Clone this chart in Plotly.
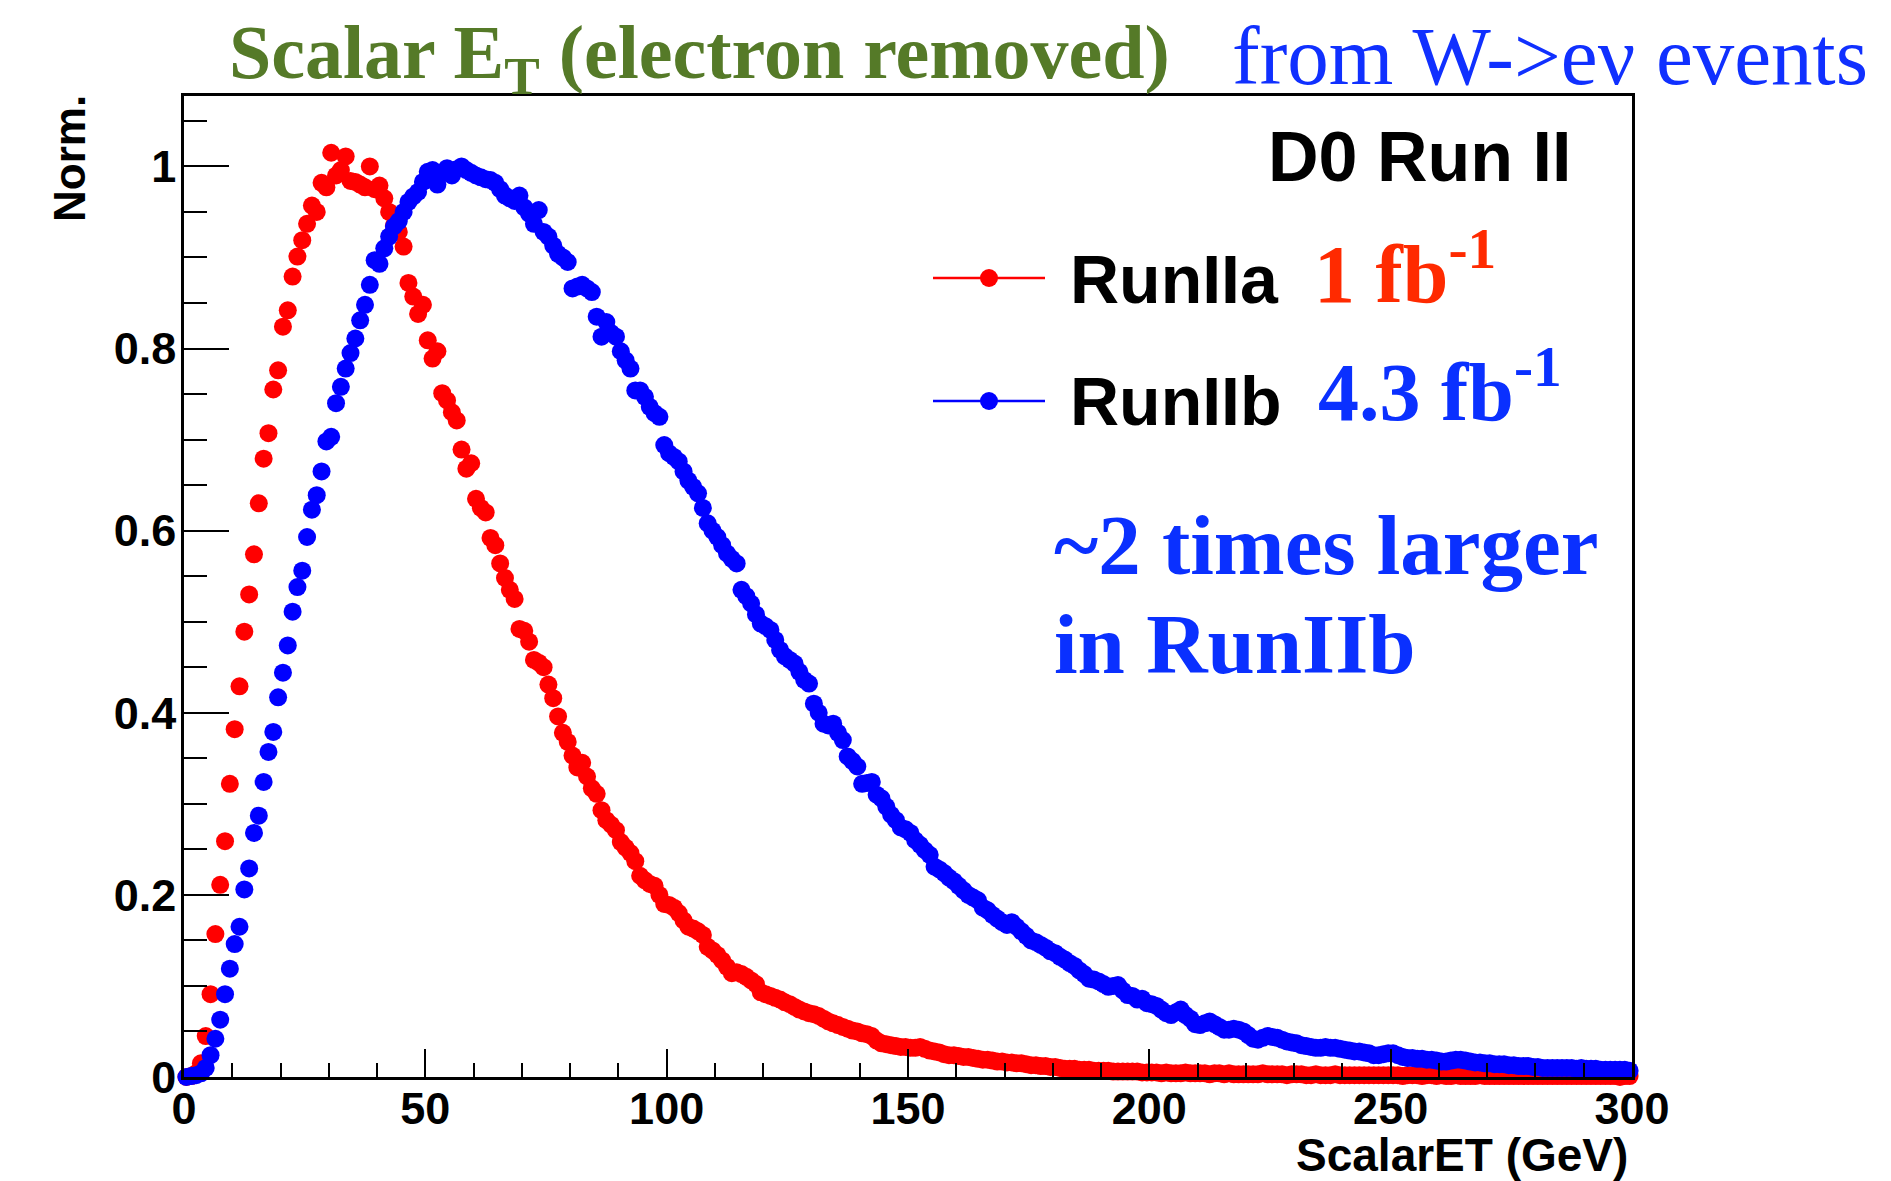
import plotly.graph_objects as go

# Scalar ET histograms (1 GeV bins, 0-300 GeV), normalised to peak
N_BINS = 300
BIN_WIDTH = 1.0
bin_centers = [(k + 0.5) * BIN_WIDTH for k in range(N_BINS)]

run2a = [
    0.000, 0.001, 0.004, 0.015, 0.045, 0.091, 0.157, 0.211, 0.259, 0.322,
    0.382, 0.429, 0.489, 0.530, 0.574, 0.630, 0.679, 0.707, 0.755, 0.776,
    0.824, 0.842, 0.879, 0.901, 0.919, 0.937, 0.957, 0.950, 0.982, 0.977,
    1.015, 0.990, 0.996, 1.011, 0.984, 0.983, 0.980, 0.977, 1.000, 0.975,
    0.979, 0.965, 0.950, 0.935, 0.928, 0.912, 0.872, 0.857, 0.838, 0.848,
    0.809, 0.789, 0.797, 0.751, 0.743, 0.730, 0.721, 0.689, 0.668, 0.674,
    0.635, 0.625, 0.620, 0.592, 0.584, 0.564, 0.548, 0.535, 0.525, 0.492,
    0.490, 0.478, 0.458, 0.455, 0.450, 0.431, 0.416, 0.396, 0.378, 0.368,
    0.353, 0.340, 0.345, 0.330, 0.317, 0.311, 0.293, 0.282, 0.277, 0.271,
    0.258, 0.252, 0.246, 0.237, 0.221, 0.216, 0.212, 0.210, 0.200, 0.190,
    0.189, 0.186, 0.180, 0.172, 0.165, 0.163, 0.160, 0.156, 0.143, 0.139,
    0.134, 0.128, 0.121, 0.114, 0.115, 0.113, 0.110, 0.106, 0.102, 0.093,
    0.091, 0.089, 0.087, 0.085, 0.082, 0.080, 0.077, 0.074, 0.072, 0.070,
    0.069, 0.067, 0.064, 0.061, 0.059, 0.057, 0.055, 0.053, 0.051, 0.050,
    0.048, 0.047, 0.045, 0.040, 0.037, 0.036, 0.035, 0.034, 0.033, 0.033,
    0.032, 0.032, 0.033, 0.031, 0.029, 0.028, 0.027, 0.025, 0.024, 0.024,
    0.023, 0.022, 0.022, 0.021, 0.020, 0.019, 0.019, 0.018, 0.017, 0.017,
    0.016, 0.016, 0.015, 0.015, 0.014, 0.013, 0.013, 0.012, 0.012, 0.011,
    0.011, 0.010, 0.009, 0.009, 0.009, 0.008, 0.008, 0.008, 0.007, 0.007,
    0.007, 0.007, 0.006, 0.006, 0.006, 0.006, 0.006, 0.006, 0.005, 0.005,
    0.005, 0.005, 0.004, 0.005, 0.004, 0.004, 0.004, 0.005, 0.004, 0.004,
    0.004, 0.004, 0.003, 0.004, 0.004, 0.003, 0.004, 0.003, 0.003, 0.003,
    0.003, 0.003, 0.003, 0.004, 0.003, 0.003, 0.003, 0.003, 0.002, 0.003,
    0.003, 0.003, 0.002, 0.002, 0.003, 0.002, 0.002, 0.002, 0.003, 0.002,
    0.002, 0.002, 0.002, 0.002, 0.002, 0.002, 0.002, 0.002, 0.002, 0.002,
    0.002, 0.002, 0.001, 0.002, 0.002, 0.002, 0.001, 0.002, 0.002, 0.001,
    0.002, 0.001, 0.001, 0.002, 0.001, 0.001, 0.001, 0.001, 0.002, 0.001,
    0.001, 0.001, 0.001, 0.001, 0.001, 0.001, 0.001, 0.001, 0.001, 0.001,
    0.001, 0.001, 0.001, 0.001, 0.001, 0.001, 0.001, 0.001, 0.001, 0.001,
    0.001, 0.001, 0.001, 0.001, 0.001, 0.001, 0.001, 0.000, 0.001, 0.001,
]

run2b = [
    0.000, 0.001, 0.002, 0.004, 0.010, 0.024, 0.042, 0.063, 0.091, 0.119,
    0.146, 0.165, 0.206, 0.229, 0.268, 0.287, 0.324, 0.357, 0.379, 0.417,
    0.444, 0.474, 0.511, 0.538, 0.556, 0.593, 0.623, 0.639, 0.665, 0.698,
    0.703, 0.740, 0.758, 0.778, 0.795, 0.811, 0.831, 0.848, 0.870, 0.897,
    0.893, 0.910, 0.923, 0.934, 0.940, 0.950, 0.961, 0.967, 0.972, 0.983,
    0.994, 0.996, 0.980, 0.993, 0.998, 0.990, 0.997, 1.000, 0.996, 0.993,
    0.990, 0.988, 0.986, 0.985, 0.982, 0.975, 0.968, 0.965, 0.962, 0.968,
    0.955, 0.948, 0.937, 0.952, 0.928, 0.923, 0.913, 0.904, 0.900, 0.895,
    0.866, 0.868, 0.870, 0.866, 0.862, 0.835, 0.813, 0.829, 0.817, 0.813,
    0.797, 0.787, 0.778, 0.754, 0.754, 0.747, 0.736, 0.729, 0.725, 0.694,
    0.685, 0.681, 0.676, 0.665, 0.655, 0.648, 0.641, 0.625, 0.608, 0.600,
    0.593, 0.584, 0.575, 0.569, 0.564, 0.535, 0.528, 0.520, 0.508, 0.498,
    0.495, 0.491, 0.480, 0.469, 0.462, 0.458, 0.454, 0.445, 0.436, 0.432,
    0.410, 0.400, 0.388, 0.386, 0.388, 0.378, 0.370, 0.352, 0.347, 0.341,
    0.322, 0.323, 0.324, 0.310, 0.306, 0.297, 0.288, 0.282, 0.274, 0.272,
    0.268, 0.260, 0.255, 0.249, 0.244, 0.231, 0.228, 0.224, 0.219, 0.215,
    0.210, 0.205, 0.200, 0.197, 0.194, 0.186, 0.183, 0.178, 0.174, 0.170,
    0.167, 0.170, 0.165, 0.160, 0.155, 0.150, 0.148, 0.145, 0.142, 0.138,
    0.136, 0.132, 0.129, 0.125, 0.122, 0.117, 0.113, 0.108, 0.107, 0.105,
    0.102, 0.099, 0.100, 0.101, 0.095, 0.090, 0.089, 0.085, 0.086, 0.081,
    0.080, 0.078, 0.074, 0.070, 0.068, 0.071, 0.074, 0.068, 0.064, 0.058,
    0.057, 0.059, 0.061, 0.058, 0.055, 0.052, 0.052, 0.053, 0.052, 0.050,
    0.046, 0.042, 0.041, 0.043, 0.045, 0.044, 0.043, 0.041, 0.039, 0.038,
    0.037, 0.035, 0.034, 0.033, 0.032, 0.032, 0.033, 0.032, 0.032, 0.031,
    0.030, 0.029, 0.028, 0.028, 0.027, 0.026, 0.024, 0.024, 0.025, 0.026,
    0.026, 0.024, 0.022, 0.021, 0.021, 0.020, 0.020, 0.019, 0.019, 0.018,
    0.017, 0.017, 0.018, 0.019, 0.019, 0.018, 0.017, 0.016, 0.016, 0.015,
    0.015, 0.014, 0.014, 0.014, 0.013, 0.013, 0.012, 0.012, 0.012, 0.011,
    0.011, 0.010, 0.010, 0.010, 0.010, 0.010, 0.010, 0.010, 0.009, 0.010,
    0.009, 0.009, 0.009, 0.008, 0.008, 0.008, 0.008, 0.008, 0.008, 0.007,
]

x_ticks = [0, 50, 100, 150, 200, 250, 300]
y_ticks = [0, 0.2, 0.4, 0.6, 0.8, 1]

RED = "#ff0000"
BLUE = "#0000ff"
SANS = "Liberation Sans"
SERIF = "Liberation Serif"

W, H = 1891, 1181
PLOT_L, PLOT_R, PLOT_T, PLOT_B = 184, 1632, 96, 1077


def px(x):
    """pixel column -> paper x"""
    return (x - PLOT_L) / (PLOT_R - PLOT_L)


def py(y):
    """pixel row -> paper y"""
    return (PLOT_B - y) / (PLOT_B - PLOT_T)


fig = go.Figure()
fig.add_trace(go.Scatter(
    x=bin_centers, y=run2a, mode="markers", name="RunIIa",
    marker=dict(color=RED, size=18, line=dict(width=0)),
    cliponaxis=False, showlegend=False,
))
fig.add_trace(go.Scatter(
    x=bin_centers, y=run2b, mode="markers", name="RunIIb",
    marker=dict(color=BLUE, size=18, line=dict(width=0)),
    cliponaxis=False, showlegend=False,
))

axis_common = dict(
    showgrid=False, zeroline=False, showline=True, linecolor="black",
    linewidth=2.5, mirror=True, ticks="inside", tickcolor="black",
    tickwidth=2, tickfont=dict(family=SANS, size=45, color="black", weight="bold"),
)
fig.update_xaxes(
    range=[0, 300], tickvals=x_ticks, ticklen=28,
    minor=dict(dtick=10, ticklen=14, ticks="inside", tickwidth=2, tickcolor="black"),
    ticklabelstandoff=-10,
    **axis_common,
)
fig.update_yaxes(
    range=[0, (PLOT_B - PLOT_T) / 910.6], tickvals=y_ticks, ticklen=45,
    minor=dict(dtick=0.05, ticklen=23, ticks="inside", tickwidth=2, tickcolor="black"),
    ticklabelstandoff=-4,
    **axis_common,
)

annotations = [
    # axis titles
    dict(text="Norm.", x=px(69), y=py(158), textangle=-90,
         xanchor="center", yanchor="middle",
         font=dict(family=SANS, size=44, color="black", weight="bold")),
    dict(text="ScalarET (GeV)", x=px(1630), y=py(1155),
         xanchor="right", yanchor="middle",
         font=dict(family=SANS, size=46, color="black", weight="bold")),
    # title
    dict(text="Scalar E<sub>T</sub> (electron removed)", x=px(227), y=py(58),
         xanchor="left", yanchor="middle",
         font=dict(family=SERIF, size=76, color="#557a28", weight="bold")),
    dict(text="from W->eν events", x=px(1230), y=py(56),
         xanchor="left", yanchor="middle",
         font=dict(family=SERIF, size=83, color="#1030ff")),
    # experiment label
    dict(text="D0 Run II", x=px(1266), y=py(157),
         xanchor="left", yanchor="middle",
         font=dict(family=SANS, size=70, color="black", weight="bold")),
    # legend labels
    dict(text="RunIIa", x=px(1068), y=py(279),
         xanchor="left", yanchor="middle",
         font=dict(family=SANS, size=68, color="black", weight="bold")),
    dict(text="1 fb<sup>-1</sup>", x=px(1312), y=py(268),
         xanchor="left", yanchor="middle",
         font=dict(family=SERIF, size=82, color="#ff2a00", weight="bold")),
    dict(text="RunIIb", x=px(1068), y=py(401),
         xanchor="left", yanchor="middle",
         font=dict(family=SANS, size=68, color="black", weight="bold")),
    dict(text="4.3 fb<sup>-1</sup>", x=px(1316), y=py(386),
         xanchor="left", yanchor="middle",
         font=dict(family=SERIF, size=82, color="#0a30ff", weight="bold")),
    # comment text
    dict(text="~2 times larger", x=px(1052), y=py(545),
         xanchor="left", yanchor="middle",
         font=dict(family=SERIF, size=85, color="#0a30ff", weight="bold")),
    dict(text="in RunIIb", x=px(1052), y=py(644),
         xanchor="left", yanchor="middle",
         font=dict(family=SERIF, size=85, color="#0a30ff", weight="bold")),
]
for a in annotations:
    a.update(xref="paper", yref="paper", showarrow=False)

# hand-drawn legend symbols: line segment with a dot
shapes = []
for row_y, col in ((278, RED), (401, BLUE)):
    shapes.append(dict(type="line", xref="paper", yref="paper",
                       x0=px(933), x1=px(1045), y0=py(row_y), y1=py(row_y),
                       line=dict(color=col, width=2.5)))
    r = 9
    shapes.append(dict(type="circle", xref="paper", yref="paper",
                       x0=px(989 - r), x1=px(989 + r), y0=py(row_y + r), y1=py(row_y - r),
                       fillcolor=col, line=dict(width=0)))

fig.update_layout(
    width=W, height=H,
    margin=dict(l=PLOT_L, r=W - PLOT_R, t=PLOT_T, b=H - PLOT_B, pad=0),
    paper_bgcolor="white", plot_bgcolor="white",
    annotations=annotations, shapes=shapes,
    showlegend=False,
)

fig.write_html("out.html")
